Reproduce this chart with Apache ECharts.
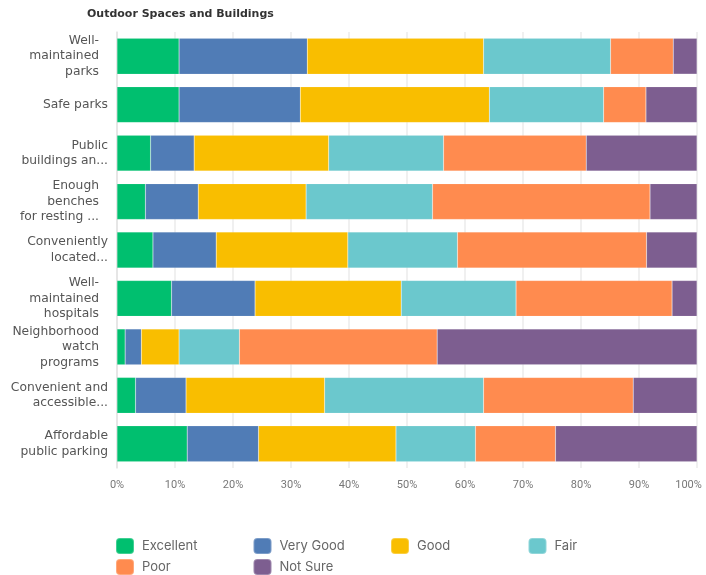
<!DOCTYPE html>
<html>
<head>
<meta charset="utf-8">
<title>Outdoor Spaces and Buildings</title>
<script src="https://cdn.jsdelivr.net/npm/echarts@6/dist/echarts.min.js"></script>
<style>
  html, body { margin: 0; padding: 0; background: #ffffff; }
  #chart { width: 706px; height: 575px; }
</style>
</head>
<body>
<div id="chart"></div>
<script>
// Survey items, top to bottom
const categories = [
  'Well-\nmaintained\nparks',
  'Safe parks',
  'Public\nbuildings an...',
  'Enough\nbenches\nfor resting ...',
  'Conveniently\nlocated...',
  'Well-\nmaintained\nhospitals',
  'Neighborhood\nwatch\nprograms',
  'Convenient and\naccessible...',
  'Affordable\npublic parking'
];

// Share of responses per rating (%)
const excellent = [10.7, 10.7, 5.8, 4.9, 6.2, 9.4, 1.4, 3.2, 12.1];
const veryGood  = [22.1, 20.9, 7.5, 9.1, 10.9, 14.4, 2.8, 8.7, 12.3];
const good      = [30.4, 32.6, 23.2, 18.6, 22.7, 25.2, 6.5, 23.9, 23.7];
const fair      = [21.9, 19.7, 19.8, 21.8, 18.9, 19.8, 10.4, 27.4, 13.7];
const poor      = [10.8, 7.3, 24.6, 37.5, 32.6, 26.9, 34.1, 25.8, 13.8];
const notSure   = [4.1, 8.8, 19.1, 8.1, 8.7, 4.3, 44.8, 11.0, 24.4];

const seriesNames = ['Excellent', 'Very Good', 'Good', 'Fair', 'Poor', 'Not Sure'];
const seriesValues = [excellent, veryGood, good, fair, poor, notSure];
const palette = ['#00BF6F', '#507CB6', '#F9BE00', '#6BC8CD', '#FF8B4F', '#7D5E90'];

const xTicks = [0, 10, 20, 30, 40, 50, 60, 70, 80, 90, 100];

const LABEL_FONT = "'DejaVu Sans', sans-serif";
const TICK_FONT = "Roboto, sans-serif";
const LEGEND_FONT = "Inter, Roboto, sans-serif";

const chart = echarts.init(document.getElementById('chart'), null, { renderer: 'canvas' });

// Legend laid out as a two-row grid of four fixed-width columns
const legends = seriesNames.map(function (name, i) {
  return {
    data: [name],
    left: 115 + (i % 4) * 137.5,
    top: i < 4 ? 537 : 558,
    padding: 0,
    icon: 'roundRect',
    itemWidth: 18,
    itemHeight: 16,
    textStyle: { color: '#666', fontFamily: LEGEND_FONT, fontSize: 13, padding: [0, 0, 0, 3] }
  };
});

chart.setOption({
  animation: false,
  backgroundColor: '#ffffff',
  color: palette,
  title: {
    text: 'Outdoor Spaces and Buildings',
    left: 87,
    top: 9,
    padding: 0,
    textStyle: { fontFamily: LABEL_FONT, fontSize: 11, fontWeight: 'bold', color: '#333' }
  },
  legend: legends,
  grid: { left: 117, right: 9, top: 32, bottom: 107, containLabel: false },
  xAxis: {
    type: 'value',
    min: xTicks[0],
    max: xTicks[xTicks.length - 1],
    interval: 10,
    axisLine: { show: false },
    axisTick: { show: false },
    splitLine: { show: true, lineStyle: { color: '#ebebeb', width: 1.5 } },
    axisLabel: {
      margin: 12,
      color: '#777',
      fontFamily: TICK_FONT,
      fontSize: 11,
      formatter: function (v) {
        return v === 100 ? '{last|' + v + '%}' : v + '%';
      },
      rich: { last: { padding: [0, 17, 0, 0], color: '#777', fontFamily: TICK_FONT, fontSize: 11 } }
    }
  },
  yAxis: {
    type: 'category',
    data: categories,
    inverse: true,
    axisLine: { show: true, lineStyle: { color: '#e3e3e3', width: 1.5 } },
    axisTick: { show: false },
    axisLabel: {
      margin: 9,
      color: '#555',
      fontFamily: LABEL_FONT,
      fontSize: 12.3,
      lineHeight: 15.5,
      align: 'right',
      formatter: function (v) {
        return v.split('\n').length >= 3 ? '{deep|' + v + '}' : v;
      },
      rich: {
        deep: { padding: [0, 9, 0, 0], color: '#555', fontFamily: LABEL_FONT, fontSize: 12.3, lineHeight: 15.5 }
      }
    }
  },
  series: seriesNames.map(function (name, i) {
    return {
      name: name,
      type: 'bar',
      stack: 'total',
      barCategoryGap: '26%',
      data: seriesValues[i],
      itemStyle: { color: palette[i], borderColor: 'rgba(255,255,255,0.25)', borderWidth: 0.5 }
    };
  })
});
</script>
</body>
</html>
